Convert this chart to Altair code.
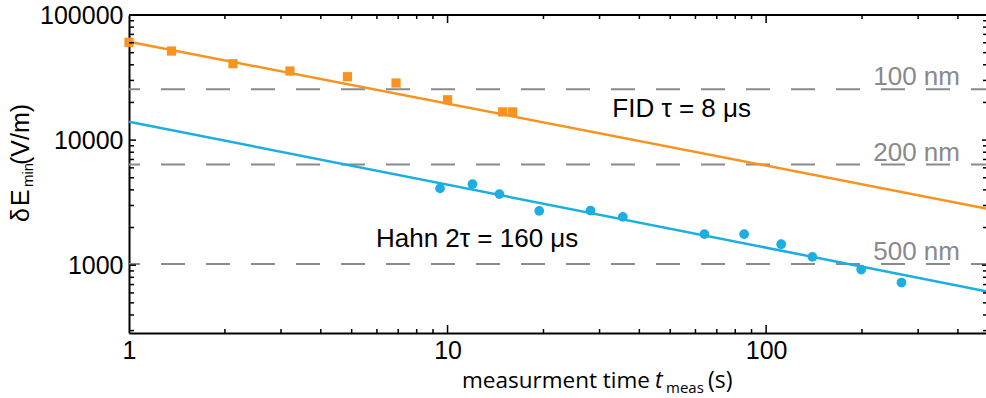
import altair as alt
import pandas as pd

# ---------------- data ----------------
fid_t = [1.0, 1.36, 2.12, 3.2, 4.85, 6.89, 10.0, 14.9, 16.0]
fid_E = [60500, 51500, 40800, 35650, 32100, 28600, 21000, 16800, 16800]

hahn_t = [9.47, 11.97, 14.55, 19.4, 28.1, 35.5, 64, 85.3, 111.5, 139.7, 198.8, 266]
hahn_E = [4108, 4446, 3700, 2720, 2730, 2434, 1770, 1770, 1472, 1165, 923, 727]

fit_t = [1, 490]
fid_fit = [61140, 2844]
hahn_fit = [14020, 620]

res_E = [25500, 6375, 1020]
res_label = ["100 nm", "200 nm", "500 nm"]

ann_text = ["FID \u03c4 = 8 \u03bcs", "Hahn 2\u03c4 = 160 \u03bcs"]
ann_t = [32.9, 5.96]
ann_E = [15280, 1393]

x_major = [10, 100]
x_minor = [2, 3, 4, 5, 6, 7, 8, 9, 20, 30, 40, 50, 60, 70, 80, 90, 200, 300, 400]
y_major = [1000, 10000]
y_minor = [300, 400, 500, 600, 700, 800, 900, 2000, 3000, 4000, 5000, 6000, 7000,
           8000, 9000, 20000, 30000, 40000, 50000, 60000, 70000, 80000, 90000]

x_labels = [1, 10, 100]
y_labels = [1000, 10000, 100000]

ORANGE = "#F7931E"
BLUE = "#1BAEE0"
GRAY = "#8A8A8A"
W, H = 857, 318
FONT = "Liberation Sans"
TFONT = "Open Sans"

xs = alt.Scale(type="log", domain=[1, 490], nice=False)
ys = alt.Scale(type="log", domain=[287, 100000], nice=False)

def X(f):
    return alt.X(f, type="quantitative", scale=xs,
                 axis=alt.Axis(values=x_labels, format="d", title=None, grid=False,
                               ticks=False, labelFlush=False, labelFont=FONT,
                               labelFontSize=25, labelColor="black", labelPadding=5,
                               domainColor="black", domainWidth=2))

def Y(f):
    return alt.Y(f, type="quantitative", scale=ys,
                 axis=alt.Axis(values=y_labels, format="d", title=None, grid=False,
                               ticks=False, labelFont=FONT, labelFontSize=25,
                               labelColor="black", labelPadding=6,
                               domainColor="black", domainWidth=2))

fid_df = pd.DataFrame({"t": fid_t, "E": fid_E})
hahn_df = pd.DataFrame({"t": hahn_t, "E": hahn_E})
fit_df = pd.DataFrame({"t": fit_t, "fid": fid_fit, "hahn": hahn_fit})
res_df = pd.DataFrame({"E": res_E, "label": res_label})
ann_df = pd.DataFrame({"t": ann_t, "E": ann_E, "text": ann_text})
one = pd.DataFrame({"k": [0]})

dash = alt.Chart(res_df).mark_rule(color=GRAY, strokeWidth=2, strokeDash=[24, 21],
                                   strokeDashOffset=9).encode(y=Y("E:Q"))
dash_lbl = alt.Chart(res_df).mark_text(align="right", baseline="alphabetic", dy=-4,
                                       font=FONT, fontSize=26, color=GRAY).encode(
    x=alt.value(831), y=Y("E:Q"), text="label:N")

fid_line = alt.Chart(fit_df).mark_line(color=ORANGE, strokeWidth=2.5).encode(
    x=X("t:Q"), y=Y("fid:Q"))
hahn_line = alt.Chart(fit_df).mark_line(color=BLUE, strokeWidth=2.5).encode(
    x=X("t:Q"), y=Y("hahn:Q"))

fid_pts = alt.Chart(fid_df).mark_point(shape="square", filled=True, size=85,
                                       color=ORANGE, opacity=1).encode(
    x=X("t:Q"), y=Y("E:Q"))
hahn_pts = alt.Chart(hahn_df).mark_point(shape="circle", filled=True, size=95,
                                         color=BLUE, opacity=1).encode(
    x=X("t:Q"), y=Y("E:Q"))

ann = alt.Chart(ann_df).mark_text(align="left", baseline="alphabetic", font=FONT,
                                  fontSize=26, color="black").encode(
    x=X("t:Q"), y=Y("E:Q"), text="text:N")

# inward ticks
xmaj_df = pd.DataFrame({"t": x_major})
xmin_df = pd.DataFrame({"t": x_minor})
ymaj_df = pd.DataFrame({"E": y_major})
ymin_df = pd.DataFrame({"E": y_minor})

def xt(df, ln, top):
    if top:
        return alt.Chart(df).mark_rule(color="black", strokeWidth=1.5).encode(
            x=X("t:Q"), y=alt.value(0), y2=alt.value(ln))
    return alt.Chart(df).mark_rule(color="black", strokeWidth=1.5).encode(
        x=X("t:Q"), y=alt.value(H), y2=alt.value(H - ln))

def yt(df, ln, right):
    if right:
        return alt.Chart(df).mark_rule(color="black", strokeWidth=1.5).encode(
            y=Y("E:Q"), x=alt.value(W), x2=alt.value(W - ln))
    return alt.Chart(df).mark_rule(color="black", strokeWidth=1.5).encode(
        y=Y("E:Q"), x=alt.value(0), x2=alt.value(ln))

ticks = [xt(xmaj_df, 8, False), xt(xmin_df, 4, False), xt(xmaj_df, 8, True),
         xt(xmin_df, 4, True), yt(ymaj_df, 7, False), yt(ymin_df, 5, False),
         yt(ymaj_df, 4, True), yt(ymin_df, 3, True)]

top_frame = alt.Chart(one).mark_rule(color="black", strokeWidth=2).encode(
    x=alt.value(0), x2=alt.value(W), y=alt.value(0))

def label(text, x, y, size, font, angle=0, style="normal"):
    kw = dict(align="left", baseline="alphabetic", font=font, fontSize=size,
              color="black", text=text, fontStyle=style)
    if angle:
        kw["angle"] = angle
    return alt.Chart(one).mark_text(**kw).encode(x=alt.value(x), y=alt.value(y))

titles = [
    label("measurment time", 333, 373, 22.5, TFONT),
    label("t", 526, 373, 23, TFONT, style="italic"),
    label("meas", 537, 378, 15, TFONT),
    label("(s)", 579, 373, 23, TFONT),
    label("\u03b4", -100, 207, 25, FONT, angle=270),
    label("E", -100, 191, 25, FONT, angle=270),
    label("min", -96, 172, 15, FONT, angle=270),
    label("(V/m)", -100, 150, 25, FONT, angle=270),
]

chart = alt.layer(
    dash, dash_lbl, fid_line, hahn_line, fid_pts, hahn_pts, ann,
    *ticks, top_frame, *titles
).properties(
    width=W, height=H,
    padding={"left": 129, "top": 15, "right": 0, "bottom": 65},
    autosize=alt.AutoSizeParams(type="none"),
    background="white",
).configure_view(stroke=None)

chart.save("out.html", embed_options={"renderer": "svg", "actions": False})
